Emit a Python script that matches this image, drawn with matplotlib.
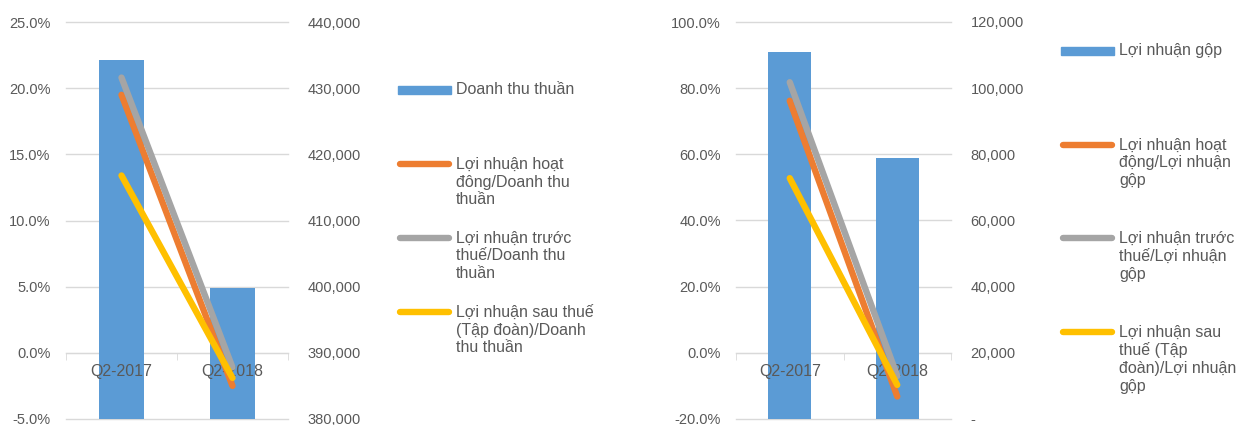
import matplotlib
matplotlib.use("Agg")
import matplotlib.pyplot as plt
from matplotlib.lines import Line2D
from matplotlib.patches import Rectangle
from matplotlib.ticker import FuncFormatter, FixedLocator

plt.rcParams['font.family'] = ['Liberation Sans', 'DejaVu Sans']

quarters = ['Q2-2017', 'Q2-2018']

# left panel
revenue = [434300, 399800]
op_margin = [19.5, -2.5]
pretax_margin = [20.8, -1.1]
net_margin = [13.4, -1.9]

# right panel
gross_profit = [111000, 78900]
op_gp = [76.2, -13.2]
pretax_gp = [81.8, -7.0]
net_gp = [52.8, -9.7]

left_labels = ['Doanh thu thuần',
               'Lợi nhuận hoạt\nđông/Doanh thu\nthuần',
               'Lợi nhuận trước\nthuế/Doanh thu\nthuần',
               'Lợi nhuận sau thuế\n(Tập đoàn)/Doanh\nthu thuần']
right_labels = ['Lợi nhuận gộp',
                'Lợi nhuận hoạt\nđộng/Lợi nhuận\ngộp',
                'Lợi nhuận trước\nthuế/Lợi nhuận\ngộp',
                'Lợi nhuận sau\nthuế (Tập\nđoàn)/Lợi nhuận\ngộp']

BAR = '#5b9bd5'
LINE_COLORS = ['#ed7d31', '#a5a5a5', '#ffc000']
GRID = '#d9d9d9'
TXT = '#595959'
W, H = 1238, 425

fig = plt.figure(figsize=(W / 100, H / 100), dpi=100)


def px(x, y):
    return x / W, 1 - y / H


def panel(left_px, width_px, bars, lines, bar_lim, pct_lim, bar_fmt):
    ax = fig.add_axes([left_px / W, 6 / H, width_px / W, 397 / H])
    x = range(len(quarters))
    ax.bar(x, bars, width=0.4, color=BAR, zorder=2)
    ax.set_xlim(-0.5, 1.5)
    ax.set_ylim(*bar_lim)
    yt = [bar_lim[0] + i * (bar_lim[1] - bar_lim[0]) / 6 for i in range(7)]
    ax.set_yticks(yt)
    for v in yt:
        ax.axhline(v, color=GRID, lw=1, zorder=0.5, clip_on=False)
    ax.set_axisbelow(False)
    for s in ['top', 'left', 'right']:
        ax.spines[s].set_visible(False)
    frac0 = (0 - pct_lim[0]) / (pct_lim[1] - pct_lim[0])
    ax.spines['bottom'].set_position(('axes', frac0))
    ax.spines['bottom'].set_color(GRID)
    ax.spines['bottom'].set_zorder(1)
    ax.set_xticks(list(x))
    ax.set_xticklabels(quarters)
    ax.xaxis.set_minor_locator(FixedLocator([-0.5, 0.5, 1.5]))
    ax.tick_params(axis='x', which='major', length=0, pad=8, labelsize=11.5, labelcolor=TXT)
    ax.tick_params(axis='x', which='minor', length=5, color=GRID)

    ax2 = ax.twinx()
    for vals, c in zip(lines, LINE_COLORS):
        ax2.plot(x, vals, color=c, lw=4.6, solid_capstyle='round')
    ax2.set_ylim(*pct_lim)
    ax2.set_yticks([pct_lim[0] + i * (pct_lim[1] - pct_lim[0]) / 6 for i in range(7)])
    ax2.yaxis.tick_left()
    ax2.yaxis.set_major_formatter(FuncFormatter(lambda v, p: f'{v:.1f}%'))
    ax2.tick_params(axis='y', length=0, pad=11, labelsize=10.5, labelcolor=TXT)
    for s in ax2.spines.values():
        s.set_visible(False)

    # bar values on the right side (twinx moved them left)
    ax.yaxis.tick_right()
    ax.yaxis.set_major_formatter(FuncFormatter(bar_fmt))
    ax.tick_params(axis='y', length=0, pad=14, labelsize=10.5, labelcolor=TXT)
    return ax, ax2


def legend(x0, ys, labels):
    hx0, hx1 = x0, x0 + 53
    bx, by = px(hx0, ys[0] + 4)
    bx1, _ = px(hx1, 0)
    fig.add_artist(Rectangle((bx, by), bx1 - bx, 8 / H, color=BAR,
                             transform=fig.transFigure))
    for i, (y, lab) in enumerate(zip(ys, labels)):
        if i > 0:
            xa, ya = px(hx0 + 2, y)
            xb, _ = px(hx1 - 2, y)
            fig.add_artist(Line2D([xa, xb], [ya, ya], color=LINE_COLORS[i - 1],
                                  lw=4.6, solid_capstyle='round',
                                  transform=fig.transFigure))
        for j, part in enumerate(lab.split('\n')):
            tx, ty = px(hx1 + 5, y + j * 18)
            fig.text(tx, ty, part, va='center', ha='left', fontsize=11.5, color=TXT)


panel(66, 222, revenue, [op_margin, pretax_margin, net_margin],
      (380000, 440000), (-5, 25), lambda v, p: f'{v:,.0f}')
panel(736, 215, gross_profit, [op_gp, pretax_gp, net_gp],
      (0, 120000), (-20, 100), lambda v, p: '-' if v == 0 else f'{v:,.0f}')

legend(398, [90, 164, 238, 312], left_labels)
legend(1061, [51, 145, 238, 332], right_labels)

fig.savefig('out.png', dpi=100)
